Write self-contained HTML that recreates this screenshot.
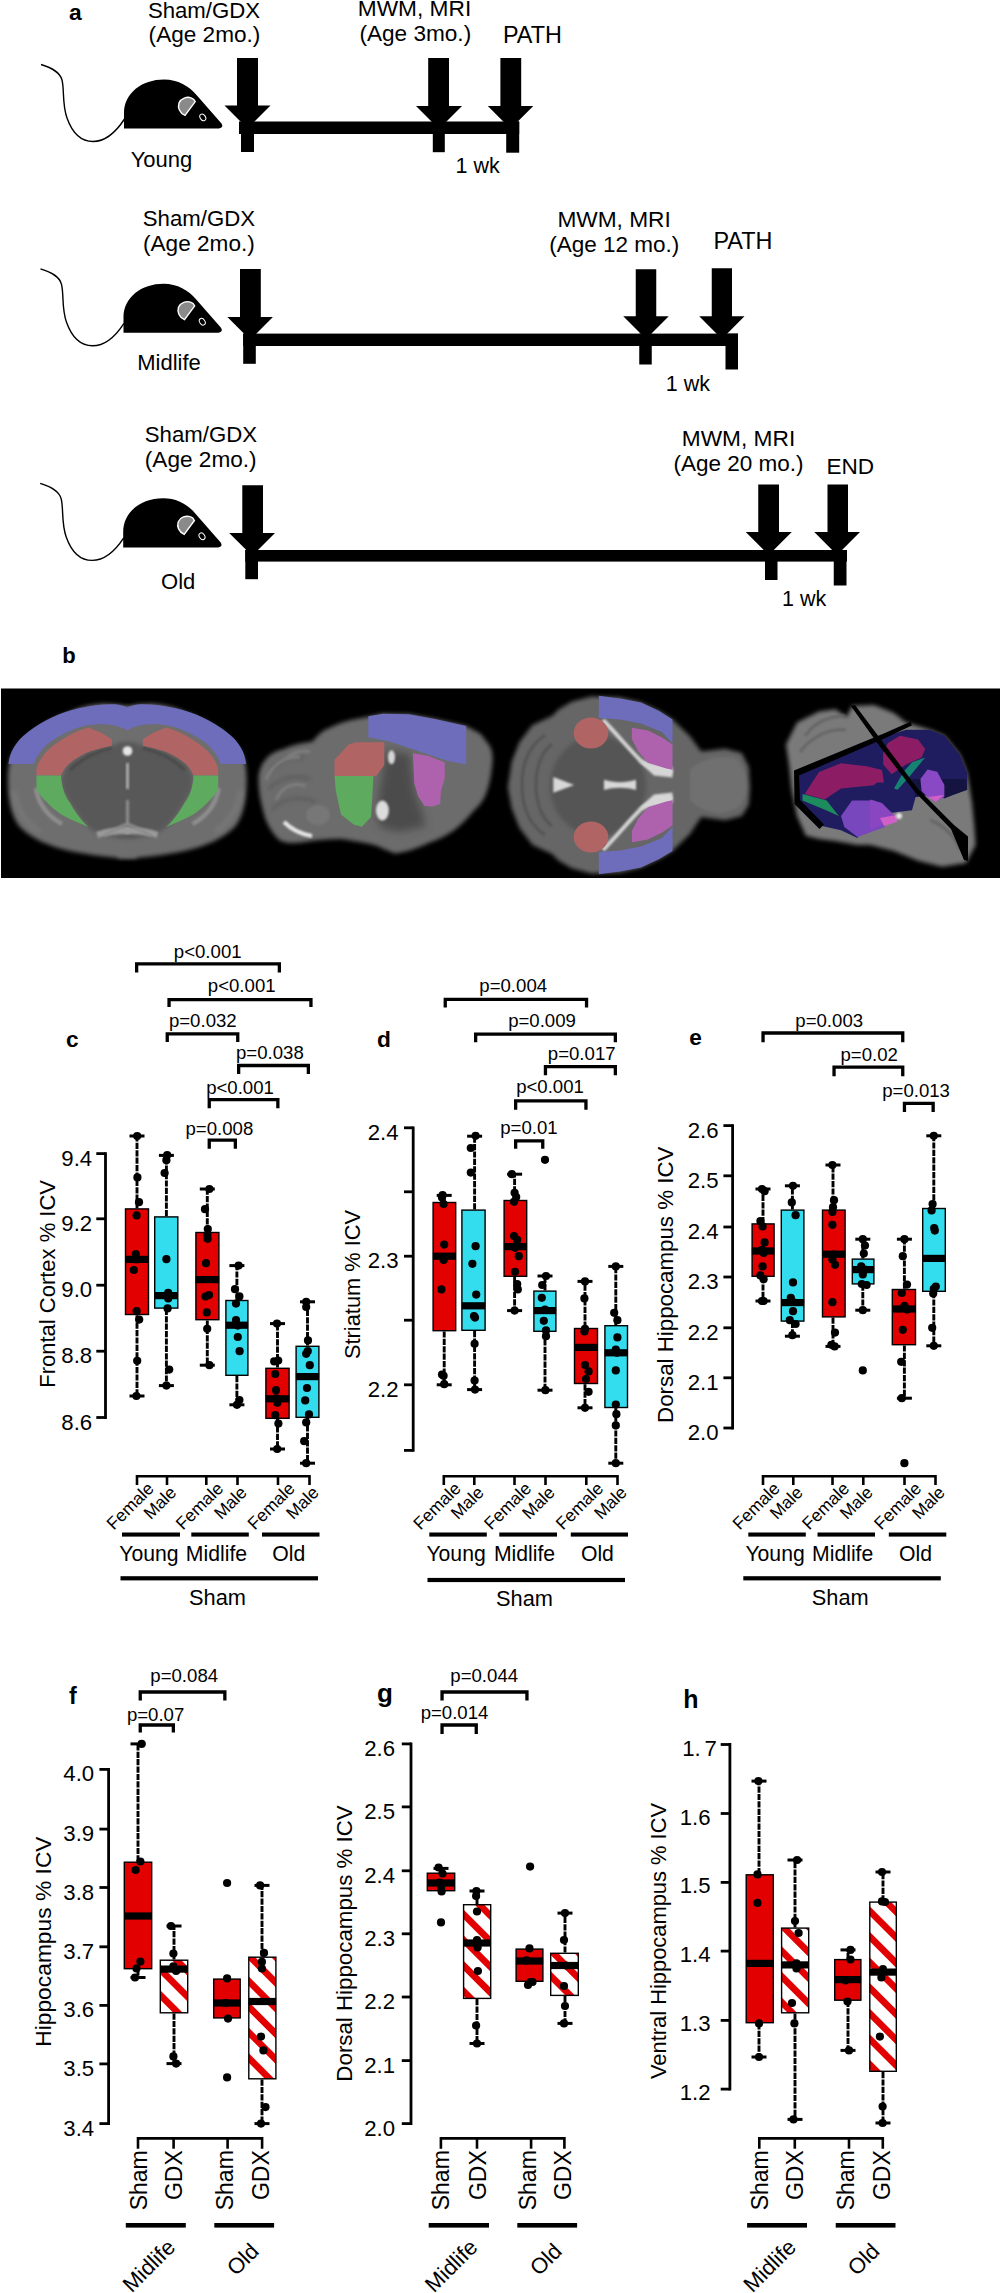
<!DOCTYPE html>
<html><head><meta charset="utf-8"><title>Figure</title>
<style>
html,body{margin:0;padding:0;background:#fff;}
body{width:1000px;height:2293px;overflow:hidden;}
svg{display:block;}
text{font-family:"Liberation Sans", sans-serif;fill:#000;}
.wh{stroke:#000;stroke-width:2.9;stroke-dasharray:6.2 1.2;}
</style></head>
<body>
<svg width="1000" height="2293" viewBox="0 0 1000 2293">
<defs>
<pattern id="hatch" patternUnits="userSpaceOnUse" x="2.47" width="18.1" height="18.1" patternTransform="rotate(-45)">
<rect width="18.1" height="18.1" fill="#fff"/>
<rect x="0" y="0" width="6.7" height="18.1" fill="#e30000"/>
</pattern>
<filter id="bl1" x="-20%" y="-20%" width="140%" height="140%"><feGaussianBlur stdDeviation="2.2"/></filter>
<filter id="bl2" x="-20%" y="-20%" width="140%" height="140%"><feGaussianBlur stdDeviation="1"/></filter>
<filter id="bl4" x="-20%" y="-20%" width="140%" height="140%"><feGaussianBlur stdDeviation="0.7"/></filter>
<filter id="bl3" x="-20%" y="-20%" width="140%" height="140%"><feGaussianBlur stdDeviation="4"/></filter>
</defs>
<rect width="1000" height="2293" fill="#fff"/>
<text x="68.9" y="20" font-size="22.8" text-anchor="start" font-weight="bold">a</text>
<g transform="translate(0 0)">
<path d="M41 64.5 C52 68 60 72 62 80 C64.5 90 62 104 67 118 C72 132 80 141.5 93 141.5 C105 141.5 116 132 124.5 119" fill="none" stroke="#000" stroke-width="1.4"/>
<path d="M124 128.5 L124 113 C124 93 142 79.4 164 79.4 C178 79.4 189 86 196.5 95 L221.5 123.5 Q224 127.5 219 128.5 Z" fill="#000"/>
<path d="M195.2 101.6 L185 115.4 C179.5 113 177.5 107.5 179 103 C181 98 187 96.5 191 97.8 C193 98.4 194.5 99.8 195.2 101.6 Z" fill="#8a8a8a" stroke="#fff" stroke-width="1.4"/>
<ellipse cx="202.8" cy="117.4" rx="2.6" ry="3.6" transform="rotate(-35 202.8 117.4)" fill="none" stroke="#fff" stroke-width="1"/>
</g>
<text x="204" y="17.5" font-size="22.2" text-anchor="middle">Sham/GDX</text>
<text x="204.5" y="41.5" font-size="22.6" text-anchor="middle">(Age 2mo.)</text>
<text x="161.5" y="166.7" font-size="22" text-anchor="middle">Young</text>
<path d="M237 58 H258 V105.5 H270.5 L247.5 128.5 L224.5 105.5 H237 Z" fill="#000"/>
<path d="M428.2 58 H449 V106 H462 L439 129 L416 106 H428.2 Z" fill="#000"/>
<path d="M500.4 58 H521.2 V106 H533.3 L510.55 128.75 L487.8 106 H500.4 Z" fill="#000"/>
<rect x="239" y="121.5" width="280.2" height="12.5" fill="#000"/>
<rect x="241" y="121.5" width="13" height="30.5" fill="#000"/>
<rect x="432.8" y="121.5" width="12" height="30.7" fill="#000"/>
<rect x="506.2" y="121.5" width="13" height="31.2" fill="#000"/>
<text x="414.5" y="15.5" font-size="22.7" text-anchor="middle">MWM, MRI</text>
<text x="415.3" y="40.5" font-size="22.6" text-anchor="middle">(Age 3mo.)</text>
<text x="532.4" y="43.2" font-size="23.4" text-anchor="middle">PATH</text>
<text x="477.6" y="173.2" font-size="21.5" text-anchor="middle">1 wk</text>
<g transform="translate(-0.5 204.3)">
<path d="M41 64.5 C52 68 60 72 62 80 C64.5 90 62 104 67 118 C72 132 80 141.5 93 141.5 C105 141.5 116 132 124.5 119" fill="none" stroke="#000" stroke-width="1.4"/>
<path d="M124 128.5 L124 113 C124 93 142 79.4 164 79.4 C178 79.4 189 86 196.5 95 L221.5 123.5 Q224 127.5 219 128.5 Z" fill="#000"/>
<path d="M195.2 101.6 L185 115.4 C179.5 113 177.5 107.5 179 103 C181 98 187 96.5 191 97.8 C193 98.4 194.5 99.8 195.2 101.6 Z" fill="#8a8a8a" stroke="#fff" stroke-width="1.4"/>
<ellipse cx="202.8" cy="117.4" rx="2.6" ry="3.6" transform="rotate(-35 202.8 117.4)" fill="none" stroke="#fff" stroke-width="1"/>
</g>
<text x="198.9" y="226.1" font-size="22.2" text-anchor="middle">Sham/GDX</text>
<text x="198.9" y="251.3" font-size="22.6" text-anchor="middle">(Age 2mo.)</text>
<text x="169" y="370" font-size="22" text-anchor="middle">Midlife</text>
<path d="M240 269 H260.8 V317 H272.9 L250.15 339.75 L227.4 317 H240 Z" fill="#000"/>
<path d="M635.75 269.25 H656.25 V316.25 H668.75 L646 339 L623.25 316.25 H635.75 Z" fill="#000"/>
<path d="M711.75 268.25 H732 V316.25 H744.5 L721.88 338.88 L699.25 316.25 H711.75 Z" fill="#000"/>
<rect x="243.2" y="333.6" width="494.8" height="12.4" fill="#000"/>
<rect x="243.2" y="333.6" width="12.6" height="30.2" fill="#000"/>
<rect x="639.25" y="333.6" width="12.5" height="30.9" fill="#000"/>
<rect x="725.5" y="333.6" width="12.5" height="35.9" fill="#000"/>
<text x="614.1" y="226.75" font-size="22.7" text-anchor="middle">MWM, MRI</text>
<text x="614.2" y="251.75" font-size="22.5" text-anchor="middle">(Age 12 mo.)</text>
<text x="742.9" y="249.25" font-size="23.4" text-anchor="middle">PATH</text>
<text x="687.9" y="390.5" font-size="21.5" text-anchor="middle">1 wk</text>
<g transform="translate(-0.8 418.9)">
<path d="M41 64.5 C52 68 60 72 62 80 C64.5 90 62 104 67 118 C72 132 80 141.5 93 141.5 C105 141.5 116 132 124.5 119" fill="none" stroke="#000" stroke-width="1.4"/>
<path d="M124 128.5 L124 113 C124 93 142 79.4 164 79.4 C178 79.4 189 86 196.5 95 L221.5 123.5 Q224 127.5 219 128.5 Z" fill="#000"/>
<path d="M195.2 101.6 L185 115.4 C179.5 113 177.5 107.5 179 103 C181 98 187 96.5 191 97.8 C193 98.4 194.5 99.8 195.2 101.6 Z" fill="#8a8a8a" stroke="#fff" stroke-width="1.4"/>
<ellipse cx="202.8" cy="117.4" rx="2.6" ry="3.6" transform="rotate(-35 202.8 117.4)" fill="none" stroke="#fff" stroke-width="1"/>
</g>
<text x="200.9" y="442" font-size="22.2" text-anchor="middle">Sham/GDX</text>
<text x="200.7" y="467.2" font-size="22.6" text-anchor="middle">(Age 2mo.)</text>
<text x="178.2" y="589.1" font-size="22" text-anchor="middle">Old</text>
<path d="M242.3 485.2 H263 V532.9 H275 L252.1 555.8 L229.2 532.9 H242.3 Z" fill="#000"/>
<path d="M758.25 484.5 H779 V532 H791.75 L768.75 555 L745.75 532 H758.25 Z" fill="#000"/>
<path d="M827.5 484.5 H848 V532 H860 L837.12 554.88 L814.25 532 H827.5 Z" fill="#000"/>
<rect x="245.3" y="550" width="601.7" height="11.6" fill="#000"/>
<rect x="245.3" y="550" width="12.7" height="29.2" fill="#000"/>
<rect x="765" y="550" width="12.5" height="30" fill="#000"/>
<rect x="833.75" y="550" width="12.75" height="35.5" fill="#000"/>
<text x="738.5" y="445.5" font-size="22.7" text-anchor="middle">MWM, MRI</text>
<text x="738.5" y="471.25" font-size="22.5" text-anchor="middle">(Age 20 mo.)</text>
<text x="850.3" y="473.75" font-size="22.6" text-anchor="middle">END</text>
<text x="804.1" y="605.5" font-size="21.5" text-anchor="middle">1 wk</text>
<text x="62.2" y="663.2" font-size="22" text-anchor="start" font-weight="bold">b</text>
<rect x="1" y="688.5" width="999" height="189.5" fill="#000"/>
<g id="coronal">
<path id="cs1" d="M137 707 L127.3 707 L117 704.5 L104 703.8 C90 705 80 707 70 712 C50 719 30 731 16 748 C10 757 8 766 8 780 C8 800 11 815 19 826 C30 838 48 846 70 851 C90 855 110 858 127.3 858 L137 858 Z" fill="#6e6e6e" filter="url(#bl1)"/>
<use href="#cs1" transform="translate(254.6 0) scale(-1 1)"/>
<path id="cs2" d="M62 776 L67.6 765 L78 757 L91 751 L112 745.7 L127.3 743 L137 743 L137 838 L127.3 838 L100 836 L88 827 L80.6 818.5 L70.2 803 L62.4 788.6 Z" fill="#595959" filter="url(#bl1)"/>
<use href="#cs2" transform="translate(254.6 0) scale(-1 1)"/>
<path id="cs3" d="M36 788 C38 802 46 815 62 824" stroke="#8e8e8e" stroke-width="4.5" fill="none" filter="url(#bl2)"/>
<use href="#cs3" transform="translate(254.6 0) scale(-1 1)"/>
<path id="cs4" d="M14 790 C16 808 24 822 40 832" stroke="#777" stroke-width="5" fill="none" filter="url(#bl1)"/>
<use href="#cs4" transform="translate(254.6 0) scale(-1 1)"/>
<path id="cs5" d="M96 832 C106 828 118 827 130 827 L130 834 C118 834 106 835 98 838 Z" fill="#9a9a9a" filter="url(#bl2)"/>
<use href="#cs5" transform="translate(254.6 0) scale(-1 1)"/>
<path id="cs6" d="M70 770 C80 760 95 752 112 748" stroke="#4a4a4a" stroke-width="3" fill="none" filter="url(#bl2)"/>
<use href="#cs6" transform="translate(254.6 0) scale(-1 1)"/>
<path d="M127.5 800 L127.5 826 M104 836 C114 830 122 826 127.5 824 C133 826 141 830 151 836" stroke="#8c8c8c" stroke-width="3" fill="none" filter="url(#bl2)"/>
<circle cx="127.5" cy="751" r="4.8" fill="#e6e6e6" filter="url(#bl2)"/>
<rect x="126" y="763" width="3" height="26" fill="#a8a8a8" filter="url(#bl2)"/>
<path id="cb" d="M8.5 764 C9.5 752 16 741 28 732 C42 721 60 712 80 708 C92 705.5 104 703.8 115 704.3 C120 704.8 124 706 127.6 707.5 L127.6 730.5 C122 727.5 116 725.2 108 724.6 C100 724 92 724.2 84 726 C72 729 60 735 50 742 C42 748.5 36.5 756 33.8 764 Z" fill="#6d6dbb"/>
<use href="#cb" transform="translate(254.6 0) scale(-1 1)"/>
<path id="cr" d="M36.4 775.6 L36.4 769 C38 762 43 754 52 746.5 C62 739 74 731.5 88.4 727.5 L101.4 732.7 L111.8 739.2 L111.8 745.7 C104 747.5 97 749 91 751 C82 754.5 74 759 67.6 765.2 C64.5 768.5 62.5 772 61.1 775.6 Z" fill="#b06464"/>
<use href="#cr" transform="translate(254.6 0) scale(-1 1)"/>
<path id="cg" d="M36.4 775.6 L61.1 775.6 C61.5 786 64.5 796 70.2 803 C74 810 79 818 88.4 827 C76 822 66 818 58.5 812.6 C50 806 42 798 36.4 790 Z" fill="#5eaa5e"/>
<use href="#cg" transform="translate(254.6 0) scale(-1 1)"/>
</g>
<g id="sagittal">
<path d="M258.5 780.6 C258 765 268 752 282.5 749.4 C292 745 302 743 312.4 741.6 C318 735 322 731 328 728.6 C340 722 352 719.5 367 716.9 L383 713.7 L409 714.3 L435 718.9 L466.2 726 L480.5 733.8 L489.6 745.5 C493 752 493 758 492.2 765 C491 775 490 783 487 791 C484 800 480 805 474 810.5 C468 818 462 824 454.5 830 C445 836 438 840 428.5 843 C420 847 414 849 409 850.8 L396 853.4 C388 852 380 846 370 844 C360 842 350 840 341 839 C332 839 322 840 315 840.4 C305 842 297 843 289 843 C282 842 278 840 276 836.5 C270 830 265 820 263 810.5 C260 800 258.5 790 258.5 780.6 Z" fill="#6c6c6c" filter="url(#bl1)"/>
<path d="M272 770 C280 760 292 756 304 758 M268 790 C278 778 294 774 310 779 M272 810 C282 798 298 795 316 802" stroke="#585858" stroke-width="2.5" fill="none" filter="url(#bl1)"/>
<ellipse cx="318" cy="815" rx="12" ry="10" fill="#777" filter="url(#bl2)"/>
<path d="M266 780 C272 764 286 756 300 757 M276 800 C282 786 294 782 306 786 M285 760 C292 752 302 750 310 752" stroke="#7c7c7c" stroke-width="3.5" fill="none" filter="url(#bl2)"/>
<path d="M386 750 L410 754 L414 790 L420 806 L426 826 L400 832 L382 828 L376 818 L380 790 Z" fill="#4c4c4c" filter="url(#bl3)"/>
<path d="M284 822 C292 830 300 834 312 836" stroke="#e6e6e6" stroke-width="4" fill="none" filter="url(#bl2)"/>
<ellipse cx="391.5" cy="757.2" rx="3.5" ry="7" fill="#d6d6d6" filter="url(#bl2)"/>
<ellipse cx="382.4" cy="810.5" rx="6.5" ry="10" fill="#dcdcdc" filter="url(#bl2)"/>
<path d="M368.3 716.3 L383 713.7 L409 714.3 L435 718.9 L466.2 726 L466.2 764.4 L448 761.1 L428.5 754.6 L409 748.1 L389.5 741.6 L368.3 737.2 Z" fill="#6d6dbb"/>
<path d="M334.5 776.1 L334.5 759.8 L348.8 744.2 L356.6 742.3 L384.3 742.3 L384.3 765 L377.8 774.1 L376 776.1 Z" fill="#b06464"/>
<path d="M334.5 776.1 L373.5 776.1 L371 817 L361.8 826.8 L354 824.8 L341 814.4 L335.8 791 Z" fill="#5eaa5e"/>
<path d="M412.9 753.3 L428.5 755.9 L444.8 762.4 L444.8 778 L440.9 791 L440.2 804 L432.4 806.6 L424.6 806 L418.1 796.2 L414.2 783.2 Z" fill="#ae62ae"/>
</g>
<g id="axial">
<path d="M507.8 787.5 L511.7 761.5 L519.5 742 L532.5 725 L552 716 L558.5 709.5 L571.5 701.7 L591 696.5 L620 697.5 L641 702.6 L659.2 711 L672.5 719.4 L690 736.2 L701.2 751.6 L725 748.8 L741.8 753 L748.8 767 L750 788 L748.8 804.8 L741.8 816 L725 820.2 L701.2 817 L690 834 L672.5 851 L659.2 859 L641 867.4 L620 872.6 L591 873.5 L571.5 868.3 L558.5 860.5 L552 854 L532.5 845 L519.5 828 L511.7 808.5 Z" fill="#666" filter="url(#bl1)"/>
<path d="M522 785 C522 760 530 745 545 735 M522 785 C522 810 530 825 545 835 M536 785 C536 765 542 752 552 744 M536 785 C536 805 542 818 552 826" stroke="#555" stroke-width="3" fill="none" filter="url(#bl2)"/>
<ellipse cx="598" cy="786" rx="48" ry="50" fill="#555" filter="url(#bl1)"/>
<path d="M690 770 C700 758 720 755 735 758 C745 765 747 780 746 790 C745 805 735 812 720 813 C705 812 695 806 690 800 Z" fill="#707070" filter="url(#bl2)"/><path d="M672 785 L746 785" stroke="#4a4a4a" stroke-width="1.5" stroke-dasharray="3 9" filter="url(#bl2)"/>
<path d="M553.3 777.1 L574.1 784.9 L553.3 792.7 Z" fill="#d8d8d8" filter="url(#bl2)"/>
<path d="M604 779.7 C614 783 626 783 636 779.7 L636 790.1 C626 787 614 787 604 790.1 Z" fill="#d8d8d8" filter="url(#bl2)"/>
<path d="M603 720 C615 732 628 748 640 760 C650 768 660 771 672.5 772 M603 850 C615 838 628 822 640 810 C650 802 660 799 672.5 798" stroke="#d4d4d4" stroke-width="4" fill="none" filter="url(#bl2)"/>
<path d="M638 761 L672.5 767 L672.5 777.5 L654 775.5 Z M638 809 L672.5 803 L672.5 792.5 L654 794.5 Z" fill="#d6d6d6" filter="url(#bl2)"/>
<path d="M598.8 695.8 L620 698.4 L641 702.6 L659.2 711 L672.5 719.4 L672.5 743.2 L662 732 L641 723.6 L620 719.4 L598.8 718 Z" fill="#6d6dbb"/>
<path d="M598.8 874.2 L620 871.6 L641 867.4 L659.2 859 L672.5 851 L672.5 826.8 L662 838 L641 846.4 L620 850.6 L598.8 852 Z" fill="#6d6dbb"/>
<ellipse cx="591" cy="733" rx="17.3" ry="15.6" fill="#b06464"/>
<ellipse cx="591" cy="837" rx="17.3" ry="15.6" fill="#b06464"/>
<path d="M631.9 727.8 L648 730.6 L662 737.6 L672.5 744.6 L672.5 769.8 L666.2 768.4 L648 762.8 L638.2 751.6 L631.9 739 Z" fill="#ae62ae"/>
<path d="M631.9 842.2 L648 839.4 L662 832.4 L672.5 825.4 L672.5 800.2 L666.2 801.6 L648 807.2 L638.2 818.4 L631.9 831 Z" fill="#ae62ae"/>
</g>
<g id="render3d">
<path d="M786 744.5 L797 722.5 L819 711.5 L835.5 709.3 L846.5 717 L852 706 L874 704.9 L894 713 L906 722.6 L930 729.8 L944.4 735.8 L960 755 L967.2 773 L972 803 L974.4 827 L975.6 845 L966 863 L942 866.7 L918 860.7 L894 851 L870 845 L857 845 L835 841 L819 839.1 L805.8 835.8 L797 816 L791.5 788.5 L789.3 766.5 Z" fill="#7a7a7a" filter="url(#bl1)"/>
<path d="M805 736 C815 722 830 716 845 716 M800 752 C812 736 830 728 846 730 M930 820 C945 826 955 836 960 850" stroke="#666" stroke-width="3" fill="none" filter="url(#bl2)"/>
<path d="M797 775 L885 736.5 L906 729.8 L930 729.8 L944.4 735.8 L960 755 L967.2 773 L967.2 789.8 L954 794.6 L944.4 798.2 L930 794.6 L915.6 797 L912 810.2 L894 812.6 L870 815 L857.5 838 L841 830.3 L822 826 L799 801 Z" fill="#1f1c5f"/>
<path d="M912 779 L966 779 L967.2 789.8 L954 794.6 L944.4 798.2 L930 794.6 L915.6 797 Z" fill="#15133f"/>
<path d="M804.7 794 L819 772 L841 763.2 L868.5 766.5 L881.7 777.5 L874 785.2 L841 788.5 L824.5 799.5 Z" fill="#8c1e64" filter="url(#bl4)"/>
<path d="M883.2 752.6 L888 743 L900 735.8 L918 739.4 L925.2 749 L921.6 757.4 L906 764.6 L891.6 774.2 L883.2 764.6 Z" fill="#8c1e64" filter="url(#bl4)"/>
<path d="M870 767 L882 770 L884 782.6 L870 782.6 Z" fill="#8c1e64" filter="url(#bl4)"/>
<path d="M802.5 794 L826.7 800.6 L838.8 816 L826.7 810.5 L802.5 800.6 Z" fill="#1d8c5e" filter="url(#bl4)"/>
<path d="M894 788.6 L903.6 771.8 L912 762.2 L925.2 757.4 L909.6 776.6 L897.6 789.8 Z" fill="#178272" filter="url(#bl4)"/>
<path d="M841 816 L852 800.6 L874 800.6 L885 807.2 L885 827 L857.5 837 L844.3 827 Z" fill="#7846be" filter="url(#bl4)"/>
<path d="M870 799.4 L882 803 L894 815 L896.4 819.8 L882 824.6 L870 830.6 Z" fill="#8a44c0" filter="url(#bl4)"/>
<path d="M920.4 779 L927.6 769.4 L937.2 771.8 L944.4 785 L944.4 797 L936 801.8 L927.6 797 L921.6 791 Z" fill="#8a48c4" filter="url(#bl4)"/>
<path d="M928 797 L944 795 L936 802 Z" fill="#d060c8" filter="url(#bl4)"/>
<path d="M880 818 L896 815 L897 822 L884 826 Z" fill="#d060c8" filter="url(#bl4)"/>
<circle cx="899" cy="816" r="3" fill="#e8e8e8" filter="url(#bl2)"/>
<path d="M794 770.5 L885 733 L910.8 721.5 L911.8 725.5 L886 737.8 L799 775.5 L800 800 L824 824.5 L819.5 829 L794.5 804 Z" fill="#000"/>
<path d="M850.9 706 L855 705 L882 741 L918 789 L954 825 L968 836.6 L968 861 L964 860 L951 829 L915 792 L878 744 Z" fill="#000"/>
</g>

<text x="66" y="1047.2" font-size="22.6" text-anchor="start" font-weight="bold">c</text>
<path d="M136.65 972.6 V963.9 H279.35 V972.6" fill="none" stroke="#000" stroke-width="3.3" stroke-linejoin="miter"/>
<text x="207.7" y="957.6" font-size="18.6" text-anchor="middle">p&lt;0.001</text>
<path d="M169.05 1007 V999.7 H310.95 V1007" fill="none" stroke="#000" stroke-width="3.3" stroke-linejoin="miter"/>
<text x="241.7" y="992.4" font-size="18.6" text-anchor="middle">p&lt;0.001</text>
<path d="M167.25 1042 V1033.9 H237.75 V1042" fill="none" stroke="#000" stroke-width="3.3" stroke-linejoin="miter"/>
<text x="202.8" y="1027" font-size="18.6" text-anchor="middle">p=0.032</text>
<path d="M238.65 1074 V1065.5 H308.35 V1074" fill="none" stroke="#000" stroke-width="3.3" stroke-linejoin="miter"/>
<text x="269.9" y="1059" font-size="18.6" text-anchor="middle">p=0.038</text>
<path d="M209.25 1108.2 V1099.6 H277.85 V1108.2" fill="none" stroke="#000" stroke-width="3.3" stroke-linejoin="miter"/>
<text x="240" y="1094" font-size="18.6" text-anchor="middle">p&lt;0.001</text>
<path d="M209.25 1148.8 V1140.2 H235.35 V1148.8" fill="none" stroke="#000" stroke-width="3.3" stroke-linejoin="miter"/>
<text x="219.4" y="1135" font-size="18.6" text-anchor="middle">p=0.008</text>
<line x1="105.5" y1="1153.6" x2="105.5" y2="1417.5" stroke="#000" stroke-width="2.8" stroke-linecap="square"/>
<line x1="96.3" y1="1153.6" x2="105.5" y2="1153.6" stroke="#000" stroke-width="2.8"/>
<text x="92.2" y="1165.6" font-size="22.2" text-anchor="end">9.4</text>
<line x1="96.3" y1="1218.8" x2="105.5" y2="1218.8" stroke="#000" stroke-width="2.8"/>
<text x="92.2" y="1230.8" font-size="22.2" text-anchor="end">9.2</text>
<line x1="96.3" y1="1285.2" x2="105.5" y2="1285.2" stroke="#000" stroke-width="2.8"/>
<text x="92.2" y="1297.2" font-size="22.2" text-anchor="end">9.0</text>
<line x1="96.3" y1="1351.2" x2="105.5" y2="1351.2" stroke="#000" stroke-width="2.8"/>
<text x="92.2" y="1363.2" font-size="22.2" text-anchor="end">8.8</text>
<line x1="96.3" y1="1417.5" x2="105.5" y2="1417.5" stroke="#000" stroke-width="2.8"/>
<text x="92.2" y="1429.5" font-size="22.2" text-anchor="end">8.6</text>
<text x="54.6" y="1283.9" font-size="22" text-anchor="middle" transform="rotate(-90 54.6 1283.9)">Frontal Cortex % ICV</text>
<line x1="137" y1="1208.2" x2="137" y2="1136" class="wh"/>
<line x1="129.5" y1="1136" x2="144.5" y2="1136" stroke="#000" stroke-width="3"/>
<line x1="137" y1="1315.2" x2="137" y2="1396" class="wh"/>
<line x1="129.5" y1="1396" x2="144.5" y2="1396" stroke="#000" stroke-width="3"/>
<rect x="125.5" y="1208.9" width="23" height="105.6" fill="#e30000" stroke="#000" stroke-width="1.4"/>
<rect x="125.3" y="1255.8" width="23.4" height="7.2" fill="#000"/>
<circle cx="137.2" cy="1136" r="4.1"/>
<circle cx="137.4" cy="1177.4" r="4.1"/>
<circle cx="139" cy="1202.2" r="4.1"/>
<circle cx="136.6" cy="1215.4" r="4.1"/>
<circle cx="135.8" cy="1254" r="4.1"/>
<circle cx="136.5" cy="1259.5" r="4.1"/>
<circle cx="133.8" cy="1270" r="4.1"/>
<circle cx="136.6" cy="1311" r="4.1"/>
<circle cx="139.2" cy="1319.6" r="4.1"/>
<circle cx="137.2" cy="1360.8" r="4.1"/>
<circle cx="136.4" cy="1396" r="4.1"/>
<line x1="166.4" y1="1216.2" x2="166.4" y2="1155.4" class="wh"/>
<line x1="158.9" y1="1155.4" x2="173.9" y2="1155.4" stroke="#000" stroke-width="3"/>
<line x1="166.4" y1="1308.8" x2="166.4" y2="1385.6" class="wh"/>
<line x1="158.9" y1="1385.6" x2="173.9" y2="1385.6" stroke="#000" stroke-width="3"/>
<rect x="154.7" y="1216.9" width="23.1" height="91.2" fill="#33ddee" stroke="#000" stroke-width="1.4"/>
<rect x="154.5" y="1292" width="23.5" height="7.2" fill="#000"/>
<circle cx="167.2" cy="1155" r="4.1"/>
<circle cx="166.4" cy="1160.2" r="4.1"/>
<circle cx="164.6" cy="1173" r="4.1"/>
<circle cx="166.4" cy="1259.2" r="4.1"/>
<circle cx="168.2" cy="1292.8" r="4.1"/>
<circle cx="168.2" cy="1298.4" r="4.1"/>
<circle cx="167.6" cy="1308.4" r="4.1"/>
<circle cx="169.2" cy="1369.6" r="4.1"/>
<circle cx="166.4" cy="1385.6" r="4.1"/>
<line x1="207.3" y1="1231.8" x2="207.3" y2="1189" class="wh"/>
<line x1="199.8" y1="1189" x2="214.8" y2="1189" stroke="#000" stroke-width="3"/>
<line x1="207.3" y1="1320.4" x2="207.3" y2="1365.2" class="wh"/>
<line x1="199.8" y1="1365.2" x2="214.8" y2="1365.2" stroke="#000" stroke-width="3"/>
<rect x="195.9" y="1232.5" width="23" height="87.2" fill="#e30000" stroke="#000" stroke-width="1.4"/>
<rect x="195.7" y="1276" width="23.4" height="7.2" fill="#000"/>
<circle cx="209.4" cy="1189" r="4.1"/>
<circle cx="205" cy="1209.2" r="4.1"/>
<circle cx="207.8" cy="1229" r="4.1"/>
<circle cx="207.4" cy="1235.2" r="4.1"/>
<circle cx="207.6" cy="1238.8" r="4.1"/>
<circle cx="206" cy="1263.2" r="4.1"/>
<circle cx="205.5" cy="1296.5" r="4.1"/>
<circle cx="209" cy="1295" r="4.1"/>
<circle cx="206.8" cy="1312.4" r="4.1"/>
<circle cx="207.2" cy="1328.8" r="4.1"/>
<circle cx="209.4" cy="1365.2" r="4.1"/>
<line x1="236.9" y1="1299.8" x2="236.9" y2="1265.6" class="wh"/>
<line x1="229.4" y1="1265.6" x2="244.4" y2="1265.6" stroke="#000" stroke-width="3"/>
<line x1="236.9" y1="1376" x2="236.9" y2="1404.8" class="wh"/>
<line x1="229.4" y1="1404.8" x2="244.4" y2="1404.8" stroke="#000" stroke-width="3"/>
<rect x="225.9" y="1300.5" width="22" height="74.8" fill="#33ddee" stroke="#000" stroke-width="1.4"/>
<rect x="225.7" y="1321.6" width="22.4" height="7.2" fill="#000"/>
<circle cx="238.6" cy="1265.6" r="4.1"/>
<circle cx="235" cy="1289.2" r="4.1"/>
<circle cx="239.4" cy="1296.4" r="4.1"/>
<circle cx="236" cy="1303.6" r="4.1"/>
<circle cx="236" cy="1320" r="4.1"/>
<circle cx="237.8" cy="1325.6" r="4.1"/>
<circle cx="237.8" cy="1337" r="4.1"/>
<circle cx="239.6" cy="1351.2" r="4.1"/>
<circle cx="239.4" cy="1400" r="4.1"/>
<circle cx="237" cy="1404.8" r="4.1"/>
<line x1="277.5" y1="1367.6" x2="277.5" y2="1323.6" class="wh"/>
<line x1="270" y1="1323.6" x2="285" y2="1323.6" stroke="#000" stroke-width="3"/>
<line x1="277.5" y1="1419" x2="277.5" y2="1449" class="wh"/>
<line x1="270" y1="1449" x2="285" y2="1449" stroke="#000" stroke-width="3"/>
<rect x="265.9" y="1368.3" width="23.2" height="50" fill="#e30000" stroke="#000" stroke-width="1.4"/>
<rect x="265.7" y="1395.2" width="23.6" height="7.2" fill="#000"/>
<circle cx="277" cy="1323.6" r="4.1"/>
<circle cx="274.2" cy="1361.4" r="4.1"/>
<circle cx="278.2" cy="1360.6" r="4.1"/>
<circle cx="275.2" cy="1374" r="4.1"/>
<circle cx="276" cy="1390.2" r="4.1"/>
<circle cx="276.2" cy="1398.4" r="4.1"/>
<circle cx="277.4" cy="1402.8" r="4.1"/>
<circle cx="275.2" cy="1415.2" r="4.1"/>
<circle cx="278.4" cy="1423.6" r="4.1"/>
<circle cx="277.2" cy="1449" r="4.1"/>
<line x1="307.5" y1="1345.6" x2="307.5" y2="1301.8" class="wh"/>
<line x1="300" y1="1301.8" x2="315" y2="1301.8" stroke="#000" stroke-width="3"/>
<line x1="307.5" y1="1418" x2="307.5" y2="1463.2" class="wh"/>
<line x1="300" y1="1463.2" x2="315" y2="1463.2" stroke="#000" stroke-width="3"/>
<rect x="296.1" y="1346.3" width="22.8" height="71" fill="#33ddee" stroke="#000" stroke-width="1.4"/>
<rect x="295.9" y="1373" width="23.2" height="7.2" fill="#000"/>
<circle cx="306.2" cy="1301.8" r="4.1"/>
<circle cx="306.2" cy="1307" r="4.1"/>
<circle cx="308" cy="1340.4" r="4.1"/>
<circle cx="307.8" cy="1351" r="4.1"/>
<circle cx="306.2" cy="1353.8" r="4.1"/>
<circle cx="309.8" cy="1365.2" r="4.1"/>
<circle cx="307" cy="1388" r="4.1"/>
<circle cx="305.2" cy="1400.4" r="4.1"/>
<circle cx="309" cy="1414.4" r="4.1"/>
<circle cx="306.2" cy="1422.4" r="4.1"/>
<circle cx="304.2" cy="1441.2" r="4.1"/>
<circle cx="306.2" cy="1463.2" r="4.1"/>
<path d="M137 1485 V1476.3 H309.5 V1485" fill="none" stroke="#000" stroke-width="2.6"/>
<line x1="167" y1="1476.3" x2="167" y2="1485" stroke="#000" stroke-width="2.6"/>
<line x1="206.3" y1="1476.3" x2="206.3" y2="1485" stroke="#000" stroke-width="2.6"/>
<line x1="237.5" y1="1476.3" x2="237.5" y2="1485" stroke="#000" stroke-width="2.6"/>
<line x1="278" y1="1476.3" x2="278" y2="1485" stroke="#000" stroke-width="2.6"/>
<text x="155" y="1489.5" font-size="17.5" text-anchor="end" transform="rotate(-45 155 1489.5)">Female</text>
<text x="177.5" y="1493.5" font-size="17.5" text-anchor="end" transform="rotate(-45 177.5 1493.5)">Male</text>
<text x="224.3" y="1489.5" font-size="17.5" text-anchor="end" transform="rotate(-45 224.3 1489.5)">Female</text>
<text x="248" y="1493.5" font-size="17.5" text-anchor="end" transform="rotate(-45 248 1493.5)">Male</text>
<text x="296" y="1489.5" font-size="17.5" text-anchor="end" transform="rotate(-45 296 1489.5)">Female</text>
<text x="320" y="1493.5" font-size="17.5" text-anchor="end" transform="rotate(-45 320 1493.5)">Male</text>
<rect x="122" y="1532.5" width="58" height="4.1" fill="#000"/>
<text x="149" y="1561.3" font-size="21.2" text-anchor="middle">Young</text>
<rect x="191.3" y="1532.5" width="57.5" height="4.1" fill="#000"/>
<text x="216.45" y="1561.3" font-size="21.2" text-anchor="middle">Midlife</text>
<rect x="262" y="1532.5" width="57.5" height="4.1" fill="#000"/>
<text x="288.75" y="1561.3" font-size="21.2" text-anchor="middle">Old</text>
<rect x="120.5" y="1576.2" width="197.5" height="4.2" fill="#000"/>
<text x="217.45" y="1604.5" font-size="21.8" text-anchor="middle">Sham</text>
<text x="377" y="1047.2" font-size="22.7" text-anchor="start" font-weight="bold">d</text>
<path d="M445.25 1007.4 V999.4 H586.55 V1007.4" fill="none" stroke="#000" stroke-width="3.3" stroke-linejoin="miter"/>
<text x="513.2" y="992" font-size="18.6" text-anchor="middle">p=0.004</text>
<path d="M475.65 1042.2 V1034.2 H615.35 V1042.2" fill="none" stroke="#000" stroke-width="3.3" stroke-linejoin="miter"/>
<text x="542" y="1027.2" font-size="18.6" text-anchor="middle">p=0.009</text>
<path d="M545.45 1075.2 V1066.6 H615.35 V1075.2" fill="none" stroke="#000" stroke-width="3.3" stroke-linejoin="miter"/>
<text x="581.7" y="1059.8" font-size="18.6" text-anchor="middle">p=0.017</text>
<path d="M515.65 1109.8 V1100.8 H585.95 V1109.8" fill="none" stroke="#000" stroke-width="3.3" stroke-linejoin="miter"/>
<text x="550" y="1093.4" font-size="18.6" text-anchor="middle">p&lt;0.001</text>
<path d="M515.65 1148.8 V1140.8 H542.75 V1148.8" fill="none" stroke="#000" stroke-width="3.3" stroke-linejoin="miter"/>
<text x="528.9" y="1134.4" font-size="18.6" text-anchor="middle">p=0.01</text>
<line x1="413.2" y1="1127.8" x2="413.2" y2="1450.4" stroke="#000" stroke-width="2.8" stroke-linecap="square"/>
<line x1="404" y1="1127.8" x2="413.2" y2="1127.8" stroke="#000" stroke-width="2.8"/>
<text x="398.5" y="1139.8" font-size="22.2" text-anchor="end">2.4</text>
<line x1="404" y1="1191.8" x2="413.2" y2="1191.8" stroke="#000" stroke-width="2.8"/>
<line x1="404" y1="1256.2" x2="413.2" y2="1256.2" stroke="#000" stroke-width="2.8"/>
<text x="398.5" y="1268.2" font-size="22.2" text-anchor="end">2.3</text>
<line x1="404" y1="1320.2" x2="413.2" y2="1320.2" stroke="#000" stroke-width="2.8"/>
<line x1="404" y1="1384.8" x2="413.2" y2="1384.8" stroke="#000" stroke-width="2.8"/>
<text x="398.5" y="1396.8" font-size="22.2" text-anchor="end">2.2</text>
<line x1="404" y1="1450.4" x2="413.2" y2="1450.4" stroke="#000" stroke-width="2.8"/>
<text x="360.2" y="1284.5" font-size="21.8" text-anchor="middle" transform="rotate(-90 360.2 1284.5)">Striatum % ICV</text>
<line x1="444.2" y1="1201.8" x2="444.2" y2="1195.4" class="wh"/>
<line x1="436.7" y1="1195.4" x2="451.7" y2="1195.4" stroke="#000" stroke-width="3"/>
<line x1="444.2" y1="1331.4" x2="444.2" y2="1384.8" class="wh"/>
<line x1="436.7" y1="1384.8" x2="451.7" y2="1384.8" stroke="#000" stroke-width="3"/>
<rect x="433.1" y="1202.5" width="22.6" height="128.2" fill="#e30000" stroke="#000" stroke-width="1.4"/>
<rect x="432.9" y="1252.6" width="23" height="7.2" fill="#000"/>
<circle cx="442.6" cy="1195" r="4.1"/>
<circle cx="442" cy="1197.6" r="4.1"/>
<circle cx="443.6" cy="1204" r="4.1"/>
<circle cx="444.2" cy="1244.6" r="4.1"/>
<circle cx="443.6" cy="1260" r="4.1"/>
<circle cx="441.4" cy="1289.4" r="4.1"/>
<circle cx="442" cy="1374.6" r="4.1"/>
<circle cx="443.6" cy="1375.8" r="4.1"/>
<circle cx="444.2" cy="1384.2" r="4.1"/>
<line x1="474.6" y1="1209.4" x2="474.6" y2="1136.2" class="wh"/>
<line x1="467.1" y1="1136.2" x2="482.1" y2="1136.2" stroke="#000" stroke-width="3"/>
<line x1="474.6" y1="1331" x2="474.6" y2="1389.6" class="wh"/>
<line x1="467.1" y1="1389.6" x2="482.1" y2="1389.6" stroke="#000" stroke-width="3"/>
<rect x="461.9" y="1210.1" width="23.2" height="120.2" fill="#33ddee" stroke="#000" stroke-width="1.4"/>
<rect x="461.7" y="1302.2" width="23.6" height="7.2" fill="#000"/>
<circle cx="475.6" cy="1135.8" r="4.1"/>
<circle cx="470.8" cy="1148" r="4.1"/>
<circle cx="470.8" cy="1172.6" r="4.1"/>
<circle cx="475.6" cy="1246.2" r="4.1"/>
<circle cx="472.4" cy="1263.8" r="4.1"/>
<circle cx="476.2" cy="1294.6" r="4.1"/>
<circle cx="474" cy="1316" r="4.1"/>
<circle cx="475" cy="1317.6" r="4.1"/>
<circle cx="474.6" cy="1343.8" r="4.1"/>
<circle cx="474.6" cy="1380.6" r="4.1"/>
<circle cx="475" cy="1389.6" r="4.1"/>
<line x1="514.6" y1="1199.8" x2="514.6" y2="1174.2" class="wh"/>
<line x1="507.1" y1="1174.2" x2="522.1" y2="1174.2" stroke="#000" stroke-width="3"/>
<line x1="514.6" y1="1277" x2="514.6" y2="1310.6" class="wh"/>
<line x1="507.1" y1="1310.6" x2="522.1" y2="1310.6" stroke="#000" stroke-width="3"/>
<rect x="504.1" y="1200.5" width="22.6" height="75.8" fill="#e30000" stroke="#000" stroke-width="1.4"/>
<rect x="503.9" y="1243" width="23" height="7.2" fill="#000"/>
<circle cx="511.8" cy="1174.2" r="4.1"/>
<circle cx="514.6" cy="1192.8" r="4.1"/>
<circle cx="516.2" cy="1197" r="4.1"/>
<circle cx="514" cy="1201.8" r="4.1"/>
<circle cx="514" cy="1236" r="4.1"/>
<circle cx="517.2" cy="1239.8" r="4.1"/>
<circle cx="516.6" cy="1244.6" r="4.1"/>
<circle cx="515" cy="1247.8" r="4.1"/>
<circle cx="518.8" cy="1256.2" r="4.1"/>
<circle cx="515" cy="1271.8" r="4.1"/>
<circle cx="517.2" cy="1284" r="4.1"/>
<circle cx="517.8" cy="1289.4" r="4.1"/>
<circle cx="514.6" cy="1310.6" r="4.1"/>
<line x1="545" y1="1290.4" x2="545" y2="1276" class="wh"/>
<line x1="537.5" y1="1276" x2="552.5" y2="1276" stroke="#000" stroke-width="3"/>
<line x1="545" y1="1332" x2="545" y2="1390.2" class="wh"/>
<line x1="537.5" y1="1390.2" x2="552.5" y2="1390.2" stroke="#000" stroke-width="3"/>
<rect x="533.9" y="1291.1" width="22" height="40.2" fill="#33ddee" stroke="#000" stroke-width="1.4"/>
<rect x="533.7" y="1307" width="22.4" height="7.2" fill="#000"/>
<circle cx="545" cy="1159.8" r="4.1"/>
<circle cx="546" cy="1276" r="4.1"/>
<circle cx="542.2" cy="1285" r="4.1"/>
<circle cx="541.8" cy="1297.8" r="4.1"/>
<circle cx="545" cy="1309.6" r="4.1"/>
<circle cx="543.8" cy="1320.8" r="4.1"/>
<circle cx="546" cy="1330.4" r="4.1"/>
<circle cx="546" cy="1336.2" r="4.1"/>
<circle cx="545.4" cy="1390.2" r="4.1"/>
<line x1="585" y1="1327.8" x2="585" y2="1281.4" class="wh"/>
<line x1="577.5" y1="1281.4" x2="592.5" y2="1281.4" stroke="#000" stroke-width="3"/>
<line x1="585" y1="1384.2" x2="585" y2="1407.8" class="wh"/>
<line x1="577.5" y1="1407.8" x2="592.5" y2="1407.8" stroke="#000" stroke-width="3"/>
<rect x="574.5" y="1328.5" width="23" height="55" fill="#e30000" stroke="#000" stroke-width="1.4"/>
<rect x="574.3" y="1343.8" width="23.4" height="7.2" fill="#000"/>
<circle cx="585" cy="1281.4" r="4.1"/>
<circle cx="584.4" cy="1298.4" r="4.1"/>
<circle cx="585" cy="1328.8" r="4.1"/>
<circle cx="584.4" cy="1331.4" r="4.1"/>
<circle cx="585" cy="1365" r="4.1"/>
<circle cx="588.6" cy="1371.4" r="4.1"/>
<circle cx="586" cy="1379" r="4.1"/>
<circle cx="588.6" cy="1391.8" r="4.1"/>
<circle cx="585" cy="1407.8" r="4.1"/>
<line x1="615.8" y1="1325" x2="615.8" y2="1266.4" class="wh"/>
<line x1="608.3" y1="1266.4" x2="623.3" y2="1266.4" stroke="#000" stroke-width="3"/>
<line x1="615.8" y1="1408.2" x2="615.8" y2="1463.2" class="wh"/>
<line x1="608.3" y1="1463.2" x2="623.3" y2="1463.2" stroke="#000" stroke-width="3"/>
<rect x="604.9" y="1325.7" width="22.6" height="81.8" fill="#33ddee" stroke="#000" stroke-width="1.4"/>
<rect x="604.7" y="1349.2" width="23" height="7.2" fill="#000"/>
<circle cx="615.8" cy="1266.4" r="4.1"/>
<circle cx="614.2" cy="1312.8" r="4.1"/>
<circle cx="617.4" cy="1320.2" r="4.1"/>
<circle cx="617.4" cy="1337.4" r="4.1"/>
<circle cx="615.8" cy="1349.6" r="4.1"/>
<circle cx="617" cy="1352.8" r="4.1"/>
<circle cx="615.8" cy="1370.4" r="4.1"/>
<circle cx="615.8" cy="1404.6" r="4.1"/>
<circle cx="616.4" cy="1414.2" r="4.1"/>
<circle cx="615.8" cy="1425.4" r="4.1"/>
<circle cx="615.8" cy="1463.2" r="4.1"/>
<path d="M443.8 1485 V1476.3 H617.5 V1485" fill="none" stroke="#000" stroke-width="2.6"/>
<line x1="474.3" y1="1476.3" x2="474.3" y2="1485" stroke="#000" stroke-width="2.6"/>
<line x1="514.5" y1="1476.3" x2="514.5" y2="1485" stroke="#000" stroke-width="2.6"/>
<line x1="545.5" y1="1476.3" x2="545.5" y2="1485" stroke="#000" stroke-width="2.6"/>
<line x1="586.3" y1="1476.3" x2="586.3" y2="1485" stroke="#000" stroke-width="2.6"/>
<text x="461.8" y="1489.5" font-size="17.5" text-anchor="end" transform="rotate(-45 461.8 1489.5)">Female</text>
<text x="484.8" y="1493.5" font-size="17.5" text-anchor="end" transform="rotate(-45 484.8 1493.5)">Male</text>
<text x="532.5" y="1489.5" font-size="17.5" text-anchor="end" transform="rotate(-45 532.5 1489.5)">Female</text>
<text x="556" y="1493.5" font-size="17.5" text-anchor="end" transform="rotate(-45 556 1493.5)">Male</text>
<text x="604.3" y="1489.5" font-size="17.5" text-anchor="end" transform="rotate(-45 604.3 1489.5)">Female</text>
<text x="628" y="1493.5" font-size="17.5" text-anchor="end" transform="rotate(-45 628 1493.5)">Male</text>
<rect x="429.3" y="1532.5" width="57.5" height="4.1" fill="#000"/>
<text x="456.05" y="1561.3" font-size="21.2" text-anchor="middle">Young</text>
<rect x="499.3" y="1532.5" width="57.7" height="4.1" fill="#000"/>
<text x="524.55" y="1561.3" font-size="21.2" text-anchor="middle">Midlife</text>
<rect x="570.8" y="1532.5" width="57.2" height="4.1" fill="#000"/>
<text x="597.4" y="1561.3" font-size="21.2" text-anchor="middle">Old</text>
<rect x="427.5" y="1577.9" width="197.5" height="4.2" fill="#000"/>
<text x="524.45" y="1605.5" font-size="21.8" text-anchor="middle">Sham</text>
<text x="689.2" y="1045.1" font-size="22.6" text-anchor="start" font-weight="bold">e</text>
<path d="M763.05 1042.2 V1033 H902.75 V1042.2" fill="none" stroke="#000" stroke-width="3.3" stroke-linejoin="miter"/>
<text x="829.2" y="1027.2" font-size="18.6" text-anchor="middle">p=0.003</text>
<path d="M834.05 1076.2 V1067.2 H902.75 V1076.2" fill="none" stroke="#000" stroke-width="3.3" stroke-linejoin="miter"/>
<text x="869.2" y="1060.8" font-size="18.6" text-anchor="middle">p=0.02</text>
<path d="M904.45 1112 V1103.4 H933.15 V1112" fill="none" stroke="#000" stroke-width="3.3" stroke-linejoin="miter"/>
<text x="916.1" y="1097" font-size="18.6" text-anchor="middle">p=0.013</text>
<line x1="732.6" y1="1125.6" x2="732.6" y2="1428" stroke="#000" stroke-width="2.8" stroke-linecap="square"/>
<line x1="723.4" y1="1125.6" x2="732.6" y2="1125.6" stroke="#000" stroke-width="2.8"/>
<text x="718.5" y="1137.6" font-size="22.2" text-anchor="end">2.6</text>
<line x1="723.4" y1="1175.8" x2="732.6" y2="1175.8" stroke="#000" stroke-width="2.8"/>
<text x="718.5" y="1187.8" font-size="22.2" text-anchor="end">2.5</text>
<line x1="723.4" y1="1227" x2="732.6" y2="1227" stroke="#000" stroke-width="2.8"/>
<text x="718.5" y="1239" font-size="22.2" text-anchor="end">2.4</text>
<line x1="723.4" y1="1277" x2="732.6" y2="1277" stroke="#000" stroke-width="2.8"/>
<text x="718.5" y="1289" font-size="22.2" text-anchor="end">2.3</text>
<line x1="723.4" y1="1327.8" x2="732.6" y2="1327.8" stroke="#000" stroke-width="2.8"/>
<text x="718.5" y="1339.8" font-size="22.2" text-anchor="end">2.2</text>
<line x1="723.4" y1="1377.8" x2="732.6" y2="1377.8" stroke="#000" stroke-width="2.8"/>
<text x="718.5" y="1389.8" font-size="22.2" text-anchor="end">2.1</text>
<line x1="723.4" y1="1428" x2="732.6" y2="1428" stroke="#000" stroke-width="2.8"/>
<text x="718.5" y="1440" font-size="22.2" text-anchor="end">2.0</text>
<text x="672.7" y="1284.75" font-size="22.3" text-anchor="middle" transform="rotate(-90 672.7 1284.75)">Dorsal Hippocampus % ICV</text>
<line x1="763" y1="1223.2" x2="763" y2="1189" class="wh"/>
<line x1="755.5" y1="1189" x2="770.5" y2="1189" stroke="#000" stroke-width="3"/>
<line x1="763" y1="1277" x2="763" y2="1301" class="wh"/>
<line x1="755.5" y1="1301" x2="770.5" y2="1301" stroke="#000" stroke-width="3"/>
<rect x="752.1" y="1223.9" width="22" height="52.4" fill="#e30000" stroke="#000" stroke-width="1.4"/>
<rect x="751.9" y="1247.4" width="22.4" height="7.2" fill="#000"/>
<circle cx="762" cy="1189" r="4.1"/>
<circle cx="764.6" cy="1191.2" r="4.1"/>
<circle cx="760.4" cy="1221" r="4.1"/>
<circle cx="762.6" cy="1226.4" r="4.1"/>
<circle cx="764.6" cy="1242.4" r="4.1"/>
<circle cx="762" cy="1249.8" r="4.1"/>
<circle cx="763.6" cy="1253" r="4.1"/>
<circle cx="762.6" cy="1266.4" r="4.1"/>
<circle cx="760.4" cy="1275.4" r="4.1"/>
<circle cx="763.6" cy="1279.2" r="4.1"/>
<circle cx="762" cy="1301" r="4.1"/>
<circle cx="763.6" cy="1301" r="4.1"/>
<line x1="792.4" y1="1209.4" x2="792.4" y2="1185.8" class="wh"/>
<line x1="784.9" y1="1185.8" x2="799.9" y2="1185.8" stroke="#000" stroke-width="3"/>
<line x1="792.4" y1="1321.8" x2="792.4" y2="1336.2" class="wh"/>
<line x1="784.9" y1="1336.2" x2="799.9" y2="1336.2" stroke="#000" stroke-width="3"/>
<rect x="781.3" y="1210.1" width="22.6" height="111" fill="#33ddee" stroke="#000" stroke-width="1.4"/>
<rect x="781.1" y="1299" width="23" height="7.2" fill="#000"/>
<circle cx="793" cy="1185.8" r="4.1"/>
<circle cx="791.8" cy="1202.4" r="4.1"/>
<circle cx="795.6" cy="1215.2" r="4.1"/>
<circle cx="793" cy="1282.4" r="4.1"/>
<circle cx="790.8" cy="1297.8" r="4.1"/>
<circle cx="792.4" cy="1301.6" r="4.1"/>
<circle cx="793" cy="1311.2" r="4.1"/>
<circle cx="789.8" cy="1320.2" r="4.1"/>
<circle cx="795.6" cy="1324" r="4.1"/>
<circle cx="792.4" cy="1335.2" r="4.1"/>
<line x1="833" y1="1209.4" x2="833" y2="1165" class="wh"/>
<line x1="825.5" y1="1165" x2="840.5" y2="1165" stroke="#000" stroke-width="3"/>
<line x1="833" y1="1317.6" x2="833" y2="1346.4" class="wh"/>
<line x1="825.5" y1="1346.4" x2="840.5" y2="1346.4" stroke="#000" stroke-width="3"/>
<rect x="822.5" y="1210.1" width="22.6" height="106.8" fill="#e30000" stroke="#000" stroke-width="1.4"/>
<rect x="822.3" y="1250.6" width="23" height="7.2" fill="#000"/>
<circle cx="832.4" cy="1165" r="4.1"/>
<circle cx="834" cy="1200.2" r="4.1"/>
<circle cx="833" cy="1207.2" r="4.1"/>
<circle cx="832.4" cy="1212" r="4.1"/>
<circle cx="832.4" cy="1224.8" r="4.1"/>
<circle cx="833.4" cy="1254.6" r="4.1"/>
<circle cx="832.4" cy="1259.4" r="4.1"/>
<circle cx="835" cy="1264.8" r="4.1"/>
<circle cx="832.4" cy="1302.2" r="4.1"/>
<circle cx="835" cy="1332.6" r="4.1"/>
<circle cx="831.4" cy="1344.8" r="4.1"/>
<circle cx="834.6" cy="1346.4" r="4.1"/>
<line x1="862.8" y1="1258.4" x2="862.8" y2="1239.2" class="wh"/>
<line x1="855.3" y1="1239.2" x2="870.3" y2="1239.2" stroke="#000" stroke-width="3"/>
<line x1="862.8" y1="1284.6" x2="862.8" y2="1310.2" class="wh"/>
<line x1="855.3" y1="1310.2" x2="870.3" y2="1310.2" stroke="#000" stroke-width="3"/>
<rect x="852.3" y="1259.1" width="21.6" height="24.8" fill="#33ddee" stroke="#000" stroke-width="1.4"/>
<rect x="852.1" y="1266" width="22" height="7.2" fill="#000"/>
<circle cx="862.8" cy="1239.2" r="4.1"/>
<circle cx="865" cy="1245.6" r="4.1"/>
<circle cx="863.8" cy="1253.6" r="4.1"/>
<circle cx="861.2" cy="1266.4" r="4.1"/>
<circle cx="865" cy="1269.6" r="4.1"/>
<circle cx="862.8" cy="1274.4" r="4.1"/>
<circle cx="861.8" cy="1284" r="4.1"/>
<circle cx="866.6" cy="1285" r="4.1"/>
<circle cx="862.8" cy="1310.2" r="4.1"/>
<circle cx="862.8" cy="1370.4" r="4.1"/>
<line x1="904.4" y1="1288.8" x2="904.4" y2="1239.2" class="wh"/>
<line x1="896.9" y1="1239.2" x2="911.9" y2="1239.2" stroke="#000" stroke-width="3"/>
<line x1="904.4" y1="1345.4" x2="904.4" y2="1398.2" class="wh"/>
<line x1="896.9" y1="1398.2" x2="911.9" y2="1398.2" stroke="#000" stroke-width="3"/>
<rect x="892.3" y="1289.5" width="23.2" height="55.2" fill="#e30000" stroke="#000" stroke-width="1.4"/>
<rect x="892.1" y="1305.4" width="23.6" height="7.2" fill="#000"/>
<circle cx="904.4" cy="1239.2" r="4.1"/>
<circle cx="902.8" cy="1256.2" r="4.1"/>
<circle cx="907" cy="1284.6" r="4.1"/>
<circle cx="901.8" cy="1293" r="4.1"/>
<circle cx="904.4" cy="1305.8" r="4.1"/>
<circle cx="907" cy="1309.6" r="4.1"/>
<circle cx="902.8" cy="1329.8" r="4.1"/>
<circle cx="901.2" cy="1361.8" r="4.1"/>
<circle cx="901.8" cy="1398.2" r="4.1"/>
<circle cx="904.4" cy="1463.2" r="4.1"/>
<line x1="933.8" y1="1207.8" x2="933.8" y2="1135.8" class="wh"/>
<line x1="926.3" y1="1135.8" x2="941.3" y2="1135.8" stroke="#000" stroke-width="3"/>
<line x1="933.8" y1="1292" x2="933.8" y2="1345.8" class="wh"/>
<line x1="926.3" y1="1345.8" x2="941.3" y2="1345.8" stroke="#000" stroke-width="3"/>
<rect x="922.7" y="1208.5" width="22.6" height="82.8" fill="#33ddee" stroke="#000" stroke-width="1.4"/>
<rect x="922.5" y="1254.8" width="23" height="7.2" fill="#000"/>
<circle cx="933.8" cy="1135.8" r="4.1"/>
<circle cx="932.6" cy="1204" r="4.1"/>
<circle cx="931.6" cy="1210.4" r="4.1"/>
<circle cx="934.2" cy="1228" r="4.1"/>
<circle cx="934.8" cy="1230.6" r="4.1"/>
<circle cx="935.8" cy="1286.6" r="4.1"/>
<circle cx="933.8" cy="1288.8" r="4.1"/>
<circle cx="933.2" cy="1293.6" r="4.1"/>
<circle cx="932.2" cy="1327.8" r="4.1"/>
<circle cx="933.8" cy="1345.8" r="4.1"/>
<path d="M763 1485 V1476.3 H935.5 V1485" fill="none" stroke="#000" stroke-width="2.6"/>
<line x1="793.3" y1="1476.3" x2="793.3" y2="1485" stroke="#000" stroke-width="2.6"/>
<line x1="832.5" y1="1476.3" x2="832.5" y2="1485" stroke="#000" stroke-width="2.6"/>
<line x1="863.3" y1="1476.3" x2="863.3" y2="1485" stroke="#000" stroke-width="2.6"/>
<line x1="904.5" y1="1476.3" x2="904.5" y2="1485" stroke="#000" stroke-width="2.6"/>
<text x="781" y="1489.5" font-size="17.5" text-anchor="end" transform="rotate(-45 781 1489.5)">Female</text>
<text x="803.8" y="1493.5" font-size="17.5" text-anchor="end" transform="rotate(-45 803.8 1493.5)">Male</text>
<text x="850.5" y="1489.5" font-size="17.5" text-anchor="end" transform="rotate(-45 850.5 1489.5)">Female</text>
<text x="873.8" y="1493.5" font-size="17.5" text-anchor="end" transform="rotate(-45 873.8 1493.5)">Male</text>
<text x="922.5" y="1489.5" font-size="17.5" text-anchor="end" transform="rotate(-45 922.5 1489.5)">Female</text>
<text x="946" y="1493.5" font-size="17.5" text-anchor="end" transform="rotate(-45 946 1493.5)">Male</text>
<rect x="748.3" y="1532.5" width="57.5" height="4.1" fill="#000"/>
<text x="775.05" y="1561.3" font-size="21.2" text-anchor="middle">Young</text>
<rect x="817.5" y="1532.5" width="57.5" height="4.1" fill="#000"/>
<text x="842.65" y="1561.3" font-size="21.2" text-anchor="middle">Midlife</text>
<rect x="888.8" y="1532.5" width="57.5" height="4.1" fill="#000"/>
<text x="915.55" y="1561.3" font-size="21.2" text-anchor="middle">Old</text>
<rect x="743.3" y="1576.2" width="197.5" height="4.2" fill="#000"/>
<text x="840.25" y="1604.5" font-size="21.8" text-anchor="middle">Sham</text>
<text x="69" y="1703.85" font-size="23.2" text-anchor="start" font-weight="bold">f</text>
<path d="M140.25 1700.4 V1692 H224.85 V1700.4" fill="none" stroke="#000" stroke-width="3.3" stroke-linejoin="miter"/>
<text x="184.2" y="1681.5" font-size="18.6" text-anchor="middle">p=0.084</text>
<path d="M140.25 1732.5 V1725 H173.35 V1732.5" fill="none" stroke="#000" stroke-width="3.3" stroke-linejoin="miter"/>
<text x="155.6" y="1720.5" font-size="18.6" text-anchor="middle">p=0.07</text>
<line x1="108.6" y1="1769.4" x2="108.6" y2="2123.6" stroke="#000" stroke-width="2.8" stroke-linecap="square"/>
<line x1="99.4" y1="1769.4" x2="108.6" y2="1769.4" stroke="#000" stroke-width="2.8"/>
<text x="94.2" y="1781.4" font-size="22.2" text-anchor="end">4.0</text>
<line x1="99.4" y1="1829.1" x2="108.6" y2="1829.1" stroke="#000" stroke-width="2.8"/>
<text x="94.2" y="1841.1" font-size="22.2" text-anchor="end">3.9</text>
<line x1="99.4" y1="1887.5" x2="108.6" y2="1887.5" stroke="#000" stroke-width="2.8"/>
<text x="94.2" y="1899.5" font-size="22.2" text-anchor="end">3.8</text>
<line x1="99.4" y1="1946.8" x2="108.6" y2="1946.8" stroke="#000" stroke-width="2.8"/>
<text x="94.2" y="1958.8" font-size="22.2" text-anchor="end">3.7</text>
<line x1="99.4" y1="2005.4" x2="108.6" y2="2005.4" stroke="#000" stroke-width="2.8"/>
<text x="94.2" y="2017.4" font-size="22.2" text-anchor="end">3.6</text>
<line x1="99.4" y1="2063.9" x2="108.6" y2="2063.9" stroke="#000" stroke-width="2.8"/>
<text x="94.2" y="2075.9" font-size="22.2" text-anchor="end">3.5</text>
<line x1="99.4" y1="2123.6" x2="108.6" y2="2123.6" stroke="#000" stroke-width="2.8"/>
<text x="94.2" y="2135.6" font-size="22.2" text-anchor="end">3.4</text>
<text x="51.1" y="1941.6" font-size="22.8" text-anchor="middle" transform="rotate(-90 51.1 1941.6)">Hippocampus % ICV</text>
<line x1="138" y1="1861.5" x2="138" y2="1743.9" class="wh"/>
<line x1="130.5" y1="1743.9" x2="145.5" y2="1743.9" stroke="#000" stroke-width="3"/>
<line x1="138" y1="1969.4" x2="138" y2="1977.5" class="wh"/>
<line x1="130.5" y1="1977.5" x2="145.5" y2="1977.5" stroke="#000" stroke-width="3"/>
<rect x="124.3" y="1862.2" width="27.4" height="106.5" fill="#e30000" stroke="#000" stroke-width="1.4"/>
<rect x="124.1" y="1912.4" width="27.8" height="7.2" fill="#000"/>
<circle cx="141.6" cy="1743.9" r="4.1"/>
<circle cx="140.4" cy="1861.5" r="4.1"/>
<circle cx="135.6" cy="1870" r="4.1"/>
<circle cx="140.4" cy="1961.6" r="4.1"/>
<circle cx="136.5" cy="1968.5" r="4.1"/>
<circle cx="135" cy="1977.5" r="4.1"/>
<line x1="174" y1="1959.5" x2="174" y2="1926" class="wh"/>
<line x1="166.5" y1="1926" x2="181.5" y2="1926" stroke="#000" stroke-width="3"/>
<line x1="174" y1="2013.5" x2="174" y2="2063.6" class="wh"/>
<line x1="166.5" y1="2063.6" x2="181.5" y2="2063.6" stroke="#000" stroke-width="3"/>
<rect x="160.3" y="1960.2" width="27.4" height="52.6" fill="url(#hatch)" stroke="#000" stroke-width="1.4"/>
<rect x="160.1" y="1965.5" width="27.8" height="7.2" fill="#000"/>
<circle cx="171" cy="1926" r="4.1"/>
<circle cx="173.4" cy="1953.5" r="4.1"/>
<circle cx="173.4" cy="1966.4" r="4.1"/>
<circle cx="176.1" cy="1970.9" r="4.1"/>
<circle cx="173.4" cy="2056.4" r="4.1"/>
<circle cx="176.1" cy="2063.6" r="4.1"/>
<rect x="213.7" y="1979.1" width="26.5" height="38.8" fill="#e30000" stroke="#000" stroke-width="1.4"/>
<rect x="213.5" y="1999.4" width="26.9" height="7.2" fill="#000"/>
<circle cx="227.1" cy="1883" r="4.1"/>
<circle cx="227.1" cy="1978.4" r="4.1"/>
<circle cx="225.6" cy="2003" r="4.1"/>
<circle cx="228" cy="2018.6" r="4.1"/>
<circle cx="227.1" cy="2077.4" r="4.1"/>
<line x1="262" y1="1956.5" x2="262" y2="1885.4" class="wh"/>
<line x1="254.5" y1="1885.4" x2="269.5" y2="1885.4" stroke="#000" stroke-width="3"/>
<line x1="262" y1="2079.5" x2="262" y2="2123.6" class="wh"/>
<line x1="254.5" y1="2123.6" x2="269.5" y2="2123.6" stroke="#000" stroke-width="3"/>
<rect x="248.8" y="1957.2" width="27.1" height="121.6" fill="url(#hatch)" stroke="#000" stroke-width="1.4"/>
<rect x="248.6" y="1997.9" width="27.5" height="7.2" fill="#000"/>
<circle cx="260.1" cy="1885.4" r="4.1"/>
<circle cx="264" cy="1952.9" r="4.1"/>
<circle cx="261.9" cy="1961.9" r="4.1"/>
<circle cx="261.9" cy="1968.5" r="4.1"/>
<circle cx="261" cy="2036.6" r="4.1"/>
<circle cx="263.4" cy="2050.4" r="4.1"/>
<circle cx="265.5" cy="2107.1" r="4.1"/>
<circle cx="261" cy="2123.6" r="4.1"/>
<path d="M138 2148.7 V2138.4 H262.1 V2148.7" fill="none" stroke="#000" stroke-width="2.6"/>
<line x1="173.6" y1="2138.4" x2="173.6" y2="2148.7" stroke="#000" stroke-width="2.6"/>
<line x1="227.6" y1="2138.4" x2="227.6" y2="2148.7" stroke="#000" stroke-width="2.6"/>
<text x="146.6" y="2150.2" font-size="23" text-anchor="end" transform="rotate(-90 146.6 2150.2)">Sham</text>
<text x="182.2" y="2150.2" font-size="23" text-anchor="end" transform="rotate(-90 182.2 2150.2)">GDX</text>
<text x="233" y="2150.2" font-size="23" text-anchor="end" transform="rotate(-90 233 2150.2)">Sham</text>
<text x="268.9" y="2150.2" font-size="23" text-anchor="end" transform="rotate(-90 268.9 2150.2)">GDX</text>
<rect x="125.8" y="2223" width="60" height="4.6" fill="#000"/>
<rect x="214.3" y="2223" width="59.8" height="4.6" fill="#000"/>
<text x="176.6" y="2248.5" font-size="22" text-anchor="end" transform="rotate(-45 176.6 2248.5)">Midlife</text>
<text x="260.2" y="2252.5" font-size="22" text-anchor="end" transform="rotate(-45 260.2 2252.5)">Old</text>
<text x="377" y="1701.5" font-size="26" text-anchor="start" font-weight="bold">g</text>
<path d="M442.05 1700.4 V1692 H526.95 V1700.4" fill="none" stroke="#000" stroke-width="3.3" stroke-linejoin="miter"/>
<text x="484.2" y="1682.4" font-size="18.6" text-anchor="middle">p=0.044</text>
<path d="M442.05 1734 V1725 H476.25 V1734" fill="none" stroke="#000" stroke-width="3.3" stroke-linejoin="miter"/>
<text x="454.5" y="1719" font-size="18.6" text-anchor="middle">p=0.014</text>
<line x1="411" y1="1743.9" x2="411" y2="2123.6" stroke="#000" stroke-width="2.8" stroke-linecap="square"/>
<line x1="401.8" y1="1743.9" x2="411" y2="1743.9" stroke="#000" stroke-width="2.8"/>
<text x="395.1" y="1755.9" font-size="22.2" text-anchor="end">2.6</text>
<line x1="401.8" y1="1806.9" x2="411" y2="1806.9" stroke="#000" stroke-width="2.8"/>
<text x="395.1" y="1818.9" font-size="22.2" text-anchor="end">2.5</text>
<line x1="401.8" y1="1870.8" x2="411" y2="1870.8" stroke="#000" stroke-width="2.8"/>
<text x="395.1" y="1882.8" font-size="22.2" text-anchor="end">2.4</text>
<line x1="401.8" y1="1933.8" x2="411" y2="1933.8" stroke="#000" stroke-width="2.8"/>
<text x="395.1" y="1945.8" font-size="22.2" text-anchor="end">2.3</text>
<line x1="401.8" y1="1997" x2="411" y2="1997" stroke="#000" stroke-width="2.8"/>
<text x="395.1" y="2009" font-size="22.2" text-anchor="end">2.2</text>
<line x1="401.8" y1="2060.6" x2="411" y2="2060.6" stroke="#000" stroke-width="2.8"/>
<text x="395.1" y="2072.6" font-size="22.2" text-anchor="end">2.1</text>
<line x1="401.8" y1="2123.6" x2="411" y2="2123.6" stroke="#000" stroke-width="2.8"/>
<text x="395.1" y="2135.6" font-size="22.2" text-anchor="end">2.0</text>
<text x="351.8" y="1943.45" font-size="22.3" text-anchor="middle" transform="rotate(-90 351.8 1943.45)">Dorsal Hippocampus % ICV</text>
<line x1="441" y1="1872.5" x2="441" y2="1868.4" class="wh"/>
<line x1="433.5" y1="1868.4" x2="448.5" y2="1868.4" stroke="#000" stroke-width="3"/>
<rect x="427.3" y="1873.2" width="27.4" height="17.5" fill="#e30000" stroke="#000" stroke-width="1.4"/>
<rect x="427.1" y="1879.4" width="27.8" height="7.2" fill="#000"/>
<circle cx="438.6" cy="1867.5" r="4.1"/>
<circle cx="442.5" cy="1873.5" r="4.1"/>
<circle cx="439.5" cy="1882.5" r="4.1"/>
<circle cx="441" cy="1887" r="4.1"/>
<circle cx="441.6" cy="1891.5" r="4.1"/>
<circle cx="441" cy="1922.4" r="4.1"/>
<line x1="477" y1="1904" x2="477" y2="1891" class="wh"/>
<line x1="469.5" y1="1891" x2="484.5" y2="1891" stroke="#000" stroke-width="3"/>
<line x1="477" y1="1999.1" x2="477" y2="2043.5" class="wh"/>
<line x1="469.5" y1="2043.5" x2="484.5" y2="2043.5" stroke="#000" stroke-width="3"/>
<rect x="463.6" y="1904.7" width="27.1" height="93.7" fill="url(#hatch)" stroke="#000" stroke-width="1.4"/>
<rect x="463.4" y="1939.4" width="27.5" height="7.2" fill="#000"/>
<circle cx="476.4" cy="1891" r="4.1"/>
<circle cx="476.1" cy="1896" r="4.1"/>
<circle cx="477" cy="1911.5" r="4.1"/>
<circle cx="477" cy="1940" r="4.1"/>
<circle cx="477.6" cy="1947.5" r="4.1"/>
<circle cx="477.9" cy="1971" r="4.1"/>
<circle cx="476.1" cy="2025.5" r="4.1"/>
<circle cx="477" cy="2043.5" r="4.1"/>
<rect x="516.1" y="1949.1" width="26.8" height="32.2" fill="#e30000" stroke="#000" stroke-width="1.4"/>
<rect x="515.9" y="1957.4" width="27.2" height="7.2" fill="#000"/>
<circle cx="530.1" cy="1866.6" r="4.1"/>
<circle cx="529.5" cy="1948.4" r="4.1"/>
<circle cx="526.5" cy="1960.4" r="4.1"/>
<circle cx="530.4" cy="1982" r="4.1"/>
<circle cx="532.5" cy="1982" r="4.1"/>
<circle cx="528" cy="1985" r="4.1"/>
<line x1="565" y1="1952.6" x2="565" y2="1913.1" class="wh"/>
<line x1="557.5" y1="1913.1" x2="572.5" y2="1913.1" stroke="#000" stroke-width="3"/>
<line x1="565" y1="1996.1" x2="565" y2="2023.4" class="wh"/>
<line x1="557.5" y1="2023.4" x2="572.5" y2="2023.4" stroke="#000" stroke-width="3"/>
<rect x="550.7" y="1953.3" width="27.6" height="42.1" fill="url(#hatch)" stroke="#000" stroke-width="1.4"/>
<rect x="550.5" y="1961.9" width="28" height="7.2" fill="#000"/>
<circle cx="565" cy="1913.1" r="4.1"/>
<circle cx="564" cy="1940" r="4.1"/>
<circle cx="566.1" cy="1965.5" r="4.1"/>
<circle cx="564" cy="1986" r="4.1"/>
<circle cx="565" cy="2006" r="4.1"/>
<circle cx="564" cy="2023.4" r="4.1"/>
<path d="M440.9 2148.7 V2138.4 H564.4 V2148.7" fill="none" stroke="#000" stroke-width="2.6"/>
<line x1="477" y1="2138.4" x2="477" y2="2148.7" stroke="#000" stroke-width="2.6"/>
<line x1="531.1" y1="2138.4" x2="531.1" y2="2148.7" stroke="#000" stroke-width="2.6"/>
<text x="449.5" y="2150.2" font-size="23" text-anchor="end" transform="rotate(-90 449.5 2150.2)">Sham</text>
<text x="485.6" y="2150.2" font-size="23" text-anchor="end" transform="rotate(-90 485.6 2150.2)">GDX</text>
<text x="536.5" y="2150.2" font-size="23" text-anchor="end" transform="rotate(-90 536.5 2150.2)">Sham</text>
<text x="571.2" y="2150.2" font-size="23" text-anchor="end" transform="rotate(-90 571.2 2150.2)">GDX</text>
<rect x="428.7" y="2223" width="60.3" height="4.6" fill="#000"/>
<rect x="517.3" y="2223" width="59.8" height="4.6" fill="#000"/>
<text x="479" y="2248.5" font-size="22" text-anchor="end" transform="rotate(-45 479 2248.5)">Midlife</text>
<text x="563.2" y="2252.5" font-size="22" text-anchor="end" transform="rotate(-45 563.2 2252.5)">Old</text>
<text x="683.3" y="1708" font-size="25" text-anchor="start" font-weight="bold">h</text>
<line x1="729.9" y1="1744.5" x2="729.9" y2="2089.1" stroke="#000" stroke-width="2.8" stroke-linecap="square"/>
<line x1="720.7" y1="1744.5" x2="729.9" y2="1744.5" stroke="#000" stroke-width="2.8"/>
<text x="682.2" y="1755.5" font-size="22.2" text-anchor="start">1.</text>
<text x="716.9" y="1755.5" font-size="22.2" text-anchor="end">7</text>
<line x1="720.7" y1="1813.5" x2="729.9" y2="1813.5" stroke="#000" stroke-width="2.8"/>
<text x="710.6" y="1824.5" font-size="22.2" text-anchor="end">1.6</text>
<line x1="720.7" y1="1882.4" x2="729.9" y2="1882.4" stroke="#000" stroke-width="2.8"/>
<text x="710.6" y="1893.4" font-size="22.2" text-anchor="end">1.5</text>
<line x1="720.7" y1="1951.1" x2="729.9" y2="1951.1" stroke="#000" stroke-width="2.8"/>
<text x="710.6" y="1962.1" font-size="22.2" text-anchor="end">1.4</text>
<line x1="720.7" y1="2020.4" x2="729.9" y2="2020.4" stroke="#000" stroke-width="2.8"/>
<text x="710.6" y="2031.4" font-size="22.2" text-anchor="end">1.3</text>
<line x1="720.7" y1="2089.1" x2="729.9" y2="2089.1" stroke="#000" stroke-width="2.8"/>
<text x="710.6" y="2100.1" font-size="22.2" text-anchor="end">1.2</text>
<text x="665.7" y="1941" font-size="21.9" text-anchor="middle" transform="rotate(-90 665.7 1941)">Ventral Hippocampus % ICV</text>
<line x1="759" y1="1874.1" x2="759" y2="1781.1" class="wh"/>
<line x1="751.5" y1="1781.1" x2="766.5" y2="1781.1" stroke="#000" stroke-width="3"/>
<line x1="759" y1="2023.4" x2="759" y2="2057" class="wh"/>
<line x1="751.5" y1="2057" x2="766.5" y2="2057" stroke="#000" stroke-width="3"/>
<rect x="746.2" y="1874.8" width="27.1" height="147.9" fill="#e30000" stroke="#000" stroke-width="1.4"/>
<rect x="746" y="1959.8" width="27.5" height="7.2" fill="#000"/>
<circle cx="758.4" cy="1781.1" r="4.1"/>
<circle cx="757.5" cy="1874.4" r="4.1"/>
<circle cx="757.5" cy="1902.9" r="4.1"/>
<circle cx="759" cy="2023.4" r="4.1"/>
<circle cx="759" cy="2057" r="4.1"/>
<line x1="795" y1="1927.4" x2="795" y2="1860" class="wh"/>
<line x1="787.5" y1="1860" x2="802.5" y2="1860" stroke="#000" stroke-width="3"/>
<line x1="795" y1="2013.5" x2="795" y2="2119.4" class="wh"/>
<line x1="787.5" y1="2119.4" x2="802.5" y2="2119.4" stroke="#000" stroke-width="3"/>
<rect x="781.6" y="1928.1" width="27.1" height="84.7" fill="url(#hatch)" stroke="#000" stroke-width="1.4"/>
<rect x="781.4" y="1961.3" width="27.5" height="7.2" fill="#000"/>
<circle cx="797.1" cy="1860" r="4.1"/>
<circle cx="795" cy="1921" r="4.1"/>
<circle cx="798.6" cy="1933" r="4.1"/>
<circle cx="796.5" cy="1963.4" r="4.1"/>
<circle cx="796.5" cy="1968.5" r="4.1"/>
<circle cx="792" cy="2003" r="4.1"/>
<circle cx="794.4" cy="2023.4" r="4.1"/>
<circle cx="793.5" cy="2119.4" r="4.1"/>
<line x1="848" y1="1958.9" x2="848" y2="1949.9" class="wh"/>
<line x1="840.5" y1="1949.9" x2="855.5" y2="1949.9" stroke="#000" stroke-width="3"/>
<line x1="848" y1="2000.9" x2="848" y2="2050.4" class="wh"/>
<line x1="840.5" y1="2050.4" x2="855.5" y2="2050.4" stroke="#000" stroke-width="3"/>
<rect x="834.7" y="1959.6" width="26.2" height="40.6" fill="#e30000" stroke="#000" stroke-width="1.4"/>
<rect x="834.5" y="1976" width="26.6" height="7.2" fill="#000"/>
<circle cx="850.5" cy="1949.9" r="4.1"/>
<circle cx="850.5" cy="1959.5" r="4.1"/>
<circle cx="845.4" cy="1980.5" r="4.1"/>
<circle cx="847.5" cy="2001.5" r="4.1"/>
<circle cx="849" cy="2050.4" r="4.1"/>
<line x1="883" y1="1901.4" x2="883" y2="1872" class="wh"/>
<line x1="875.5" y1="1872" x2="890.5" y2="1872" stroke="#000" stroke-width="3"/>
<line x1="883" y1="2072" x2="883" y2="2123" class="wh"/>
<line x1="875.5" y1="2123" x2="890.5" y2="2123" stroke="#000" stroke-width="3"/>
<rect x="869.8" y="1902.1" width="26.5" height="169.2" fill="url(#hatch)" stroke="#000" stroke-width="1.4"/>
<rect x="869.6" y="1968.5" width="26.9" height="7.2" fill="#000"/>
<circle cx="882" cy="1872" r="4.1"/>
<circle cx="882" cy="1901.4" r="4.1"/>
<circle cx="885" cy="1902" r="4.1"/>
<circle cx="882.9" cy="1969.1" r="4.1"/>
<circle cx="881.4" cy="1977.5" r="4.1"/>
<circle cx="879.9" cy="2036.6" r="4.1"/>
<circle cx="882.6" cy="2106.5" r="4.1"/>
<circle cx="882.6" cy="2123" r="4.1"/>
<path d="M759.3 2148.7 V2138.4 H882.8 V2148.7" fill="none" stroke="#000" stroke-width="2.6"/>
<line x1="794.8" y1="2138.4" x2="794.8" y2="2148.7" stroke="#000" stroke-width="2.6"/>
<line x1="849" y1="2138.4" x2="849" y2="2148.7" stroke="#000" stroke-width="2.6"/>
<text x="767.9" y="2150.2" font-size="23" text-anchor="end" transform="rotate(-90 767.9 2150.2)">Sham</text>
<text x="803.4" y="2150.2" font-size="23" text-anchor="end" transform="rotate(-90 803.4 2150.2)">GDX</text>
<text x="854.4" y="2150.2" font-size="23" text-anchor="end" transform="rotate(-90 854.4 2150.2)">Sham</text>
<text x="889.6" y="2150.2" font-size="23" text-anchor="end" transform="rotate(-90 889.6 2150.2)">GDX</text>
<rect x="747.1" y="2223" width="59.9" height="4.6" fill="#000"/>
<rect x="835.7" y="2223" width="59.8" height="4.6" fill="#000"/>
<text x="797.4" y="2248.5" font-size="22" text-anchor="end" transform="rotate(-45 797.4 2248.5)">Midlife</text>
<text x="880.9" y="2252.5" font-size="22" text-anchor="end" transform="rotate(-45 880.9 2252.5)">Old</text>
</svg>
</body></html>
